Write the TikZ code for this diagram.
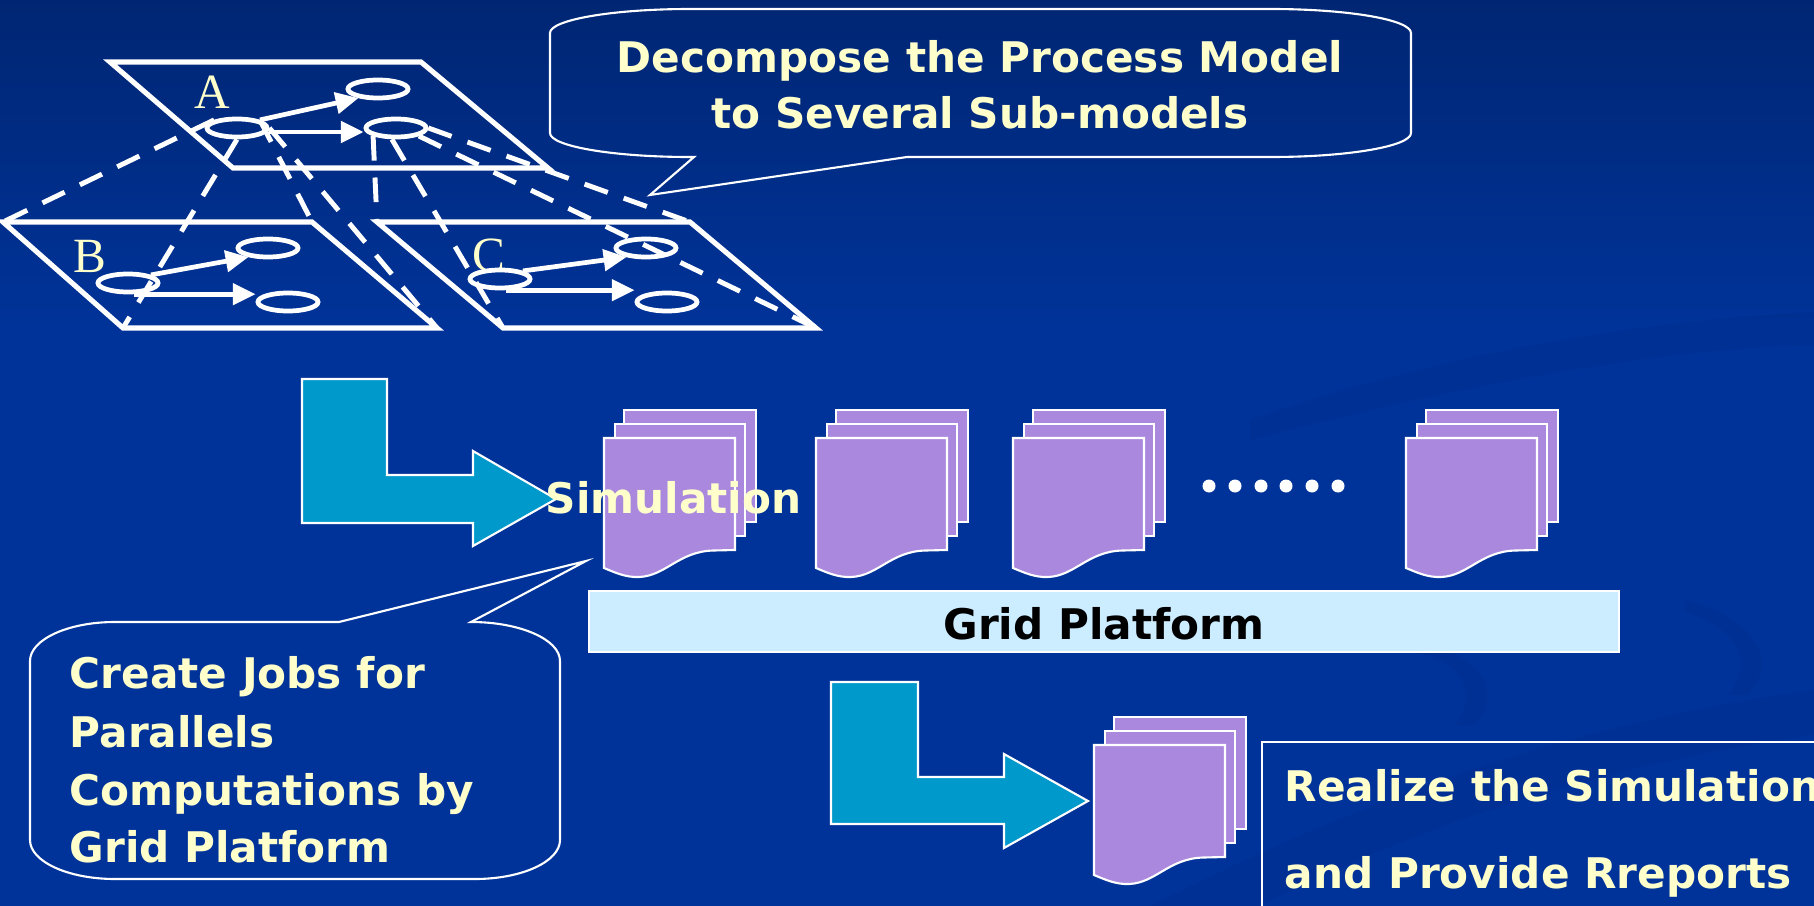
\documentclass[tikz,border=0pt]{standalone}
\usepackage{fontspec}
\setmainfont{DejaVu Sans}
\newfontfamily\serifletter{Liberation Serif}
\usetikzlibrary{arrows.meta,shapes.geometric,calc}

\definecolor{bgtop}{RGB}{0,38,115}
\definecolor{bgmain}{RGB}{0,51,153}
\definecolor{swoosh}{RGB}{0,28,105}
\definecolor{paleyellow}{RGB}{255,255,204}
\definecolor{arrowteal}{RGB}{0,153,204}
\definecolor{docpurple}{RGB}{170,136,222}
\definecolor{gridblue}{RGB}{204,236,255}

\tikzset{
  plane/.style={draw=white, line width=1.45pt, line join=miter},
  proj/.style={draw=white, line width=1.4pt, dash pattern=on 7pt off 4.8pt},
  state/.style={ellipse, draw=white, line width=1.35pt, minimum width=0.6cm,
                minimum height=0.18cm, inner sep=0pt},
  flow/.style={draw=white, line width=1.35pt, -{Triangle[length=6.5pt,width=6pt]}},
  callout/.style={draw=white, line width=0.6pt},
  bigarrow/.style={fill=arrowteal, draw=white, line width=0.6pt},
  page/.style={fill=docpurple, draw=white, line width=0.6pt},
  caption/.style={text=paleyellow, font=\fontsize{12}{14}\selectfont\bfseries, inner sep=0pt},
  letter/.style={text=paleyellow, font=\serifletter\fontsize{14}{16}\selectfont, inner sep=0pt},
}

% stack of three pages; #1,#2 = top-left corner of the front page
\newcommand\docstack[2]{%
  \filldraw[page] (#1+20,#2-28) rectangle (#1+152,#2+84);
  \filldraw[page] (#1+11,#2-14) rectangle (#1+141,#2+98);
  \filldraw[page] (#1,#2) -- (#1+131,#2) -- (#1+131,#2+112) -- (#1+110,#2+112.5)
     .. controls (#1+75,#2+113) and (#1+62,#2+138) .. (#1+35,#2+139)
     .. controls (#1+22,#2+139.5) and (#1+12,#2+135) .. (#1,#2+130) -- cycle;}

\begin{document}
\begin{tikzpicture}[x=0.01cm, y=-0.01cm]
\useasboundingbox (0,0) rectangle (1814,906);
\clip (0,0) rectangle (1814,906);

% background with faint swooshes
\fill[bgmain] (0,0) rectangle (1814,906);
\shade[top color=bgtop, bottom color=bgmain] (0,0) rectangle (1814,330);
\fill[swoosh, opacity=0.10] (1250,420) .. controls (1450,350) and (1650,320) .. (1814,312)
   -- (1814,345) .. controls (1650,350) and (1460,385) .. (1250,440) -- cycle;
\fill[swoosh, opacity=0.10] (1150,906) .. controls (1400,780) and (1600,720) .. (1814,690)
   -- (1814,735) .. controls (1600,765) and (1420,825) .. (1260,906) -- cycle;
\fill[swoosh, opacity=0.10] (1415,640) .. controls (1480,655) and (1505,690) .. (1475,725)
   -- (1455,725) .. controls (1480,690) and (1460,662) .. (1415,652) -- cycle;
\fill[swoosh, opacity=0.10] (1685,600) .. controls (1755,618) and (1780,660) .. (1748,695)
   -- (1728,695) .. controls (1757,660) and (1735,628) .. (1685,612) -- cycle;

% process model planes
\coordinate (ATL) at (110,62);  \coordinate (ATR) at (421,62);
\coordinate (ABR) at (548,168); \coordinate (ABL) at (233,168);
\coordinate (BTL) at (3,222);   \coordinate (BTR) at (312,222);
\coordinate (BBR) at (437,328); \coordinate (BBL) at (123,328);
\coordinate (CTL) at (377,222); \coordinate (CTR) at (690,222);
\coordinate (CBR) at (816,328); \coordinate (CBL) at (503,328);
\draw[plane] (ATL) -- (ATR) -- (ABR) -- (ABL) -- cycle;
\draw[plane] (BTL) -- (BTR) -- (BBR) -- (BBL) -- cycle;
\draw[plane] (CTL) -- (CTR) -- (CBR) -- (CBL) -- cycle;

\node[letter, anchor=base] (labA) at (212,108) {A};
\node[letter, anchor=base] (labB) at (90,272) {B};
\node[letter, anchor=base] (labC) at (489,271) {C};

% states
\node[state] (A1) at (237,128) {};
\node[state] (A2) at (378,89) {};
\node[state] (A3) at (396,128) {};
\node[state] (B1) at (128,283) {};
\node[state] (B2) at (268,248) {};
\node[state] (B3) at (288,302) {};
\node[state] (C1) at (500,279) {};
\node[state] (C2) at (646,248) {};
\node[state] (C3) at (667,302) {};

% projection lines
\draw[proj] (A1.north west) -- (BTL);
\draw[proj] (A1.south) -- (BBL);
\draw[proj] (A1.north east) -- (BTR);
\draw[proj] (A1.east) -- (BBR);
\draw[proj] (A3.south west) -- (CTL);
\draw[proj] (A3.250) -- (CBL);
\draw[proj] (A3.east) -- (CTR);
\draw[proj] (A3.south east) -- (CBR);

% transitions
\draw[flow] (A1.north east) -- (A2.205);
\draw[flow] ($(A1.east)+(0,4)$) -- ($(A3.west)+(0,4)$);
\draw[flow] (B1.north east) -- (B2.205);
\draw[flow] (B1.-60) -- (B1.-60 -| B3.west);
\draw[flow] (C1.north east) -- (C2.205);
\draw[flow] (C1.-60) -- (C1.-60 -| C3.west);

% callout: decomposition
\draw[callout] (550,33) .. controls (550,19.8) and (612.7,9) .. (690,9)
   -- (1271,9) .. controls (1348.3,9) and (1411,19.8) .. (1411,33)
   -- (1411,133) .. controls (1411,146.2) and (1348.3,157) .. (1271,157)
   -- (907,157) -- (650,195) -- (694,157) -- (690,157)
   .. controls (612.7,157) and (550,146.2) .. (550,133) -- cycle;
\node[caption, anchor=base] (dec1) at (980,72) {Decompose the Process Model};
\node[caption, anchor=base] (dec2) at (980,128) {to Several Sub-models};

% first big arrow
\filldraw[bigarrow] (302,379) -- (387,379) -- (387,475) -- (473,475) -- (473,451)
   -- (556,499) -- (473,546) -- (473,523) -- (302,523) -- cycle;

% job stacks
\docstack{604}{438}
\docstack{816}{438}
\docstack{1013}{438}
\docstack{1406}{438}
\foreach \dx in {1209,1235,1261,1286,1312,1338}
  \fill[white] (\dx,486) circle[radius=6.5];

\node[caption, anchor=base west] (sim) at (545,513) {Simulation};

% grid platform bar
\node[draw=white, line width=0.6pt, fill=gridblue, minimum width=10.30cm,
      minimum height=0.61cm, inner sep=0pt] (grid) at (1104,621.5) {};
\node[font=\fontsize{12}{14}\selectfont\bfseries, text=black, inner sep=0pt,
      anchor=base] (gridtxt) at (1104,639) {Grid Platform};

% callout: job creation
\draw[callout] (30,661) .. controls (30,639.5) and (68,622) .. (115,622)
   -- (339,622) -- (586,561) -- (471,622)
   .. controls (520,622) and (560,639.5) .. (560,661)
   -- (560,840) .. controls (560,861.5) and (522,879) .. (475,879)
   -- (115,879) .. controls (68,879) and (30,861.5) .. (30,840) -- cycle;
\node[caption, anchor=base west] (job1) at (69,688) {Create Jobs for};
\node[caption, anchor=base west] (job2) at (69,747) {Parallels};
\node[caption, anchor=base west] (job3) at (69,805) {Computations by};
\node[caption, anchor=base west] (job4) at (69,862) {Grid Platform};

% second big arrow and results
\filldraw[bigarrow] (831,682) -- (918,682) -- (918,777) -- (1004,777) -- (1004,754)
   -- (1088,801) -- (1004,848) -- (1004,824) -- (831,824) -- cycle;
\docstack{1094}{745}

% result box
\draw[callout] (1262,930) -- (1262,742) -- (1840,742);
\node[caption, anchor=base west] (res1) at (1284,801) {Realize the Simulation};
\node[caption, anchor=base west] (res2) at (1284,888) {and Provide Rreports};
\end{tikzpicture}
\end{document}
